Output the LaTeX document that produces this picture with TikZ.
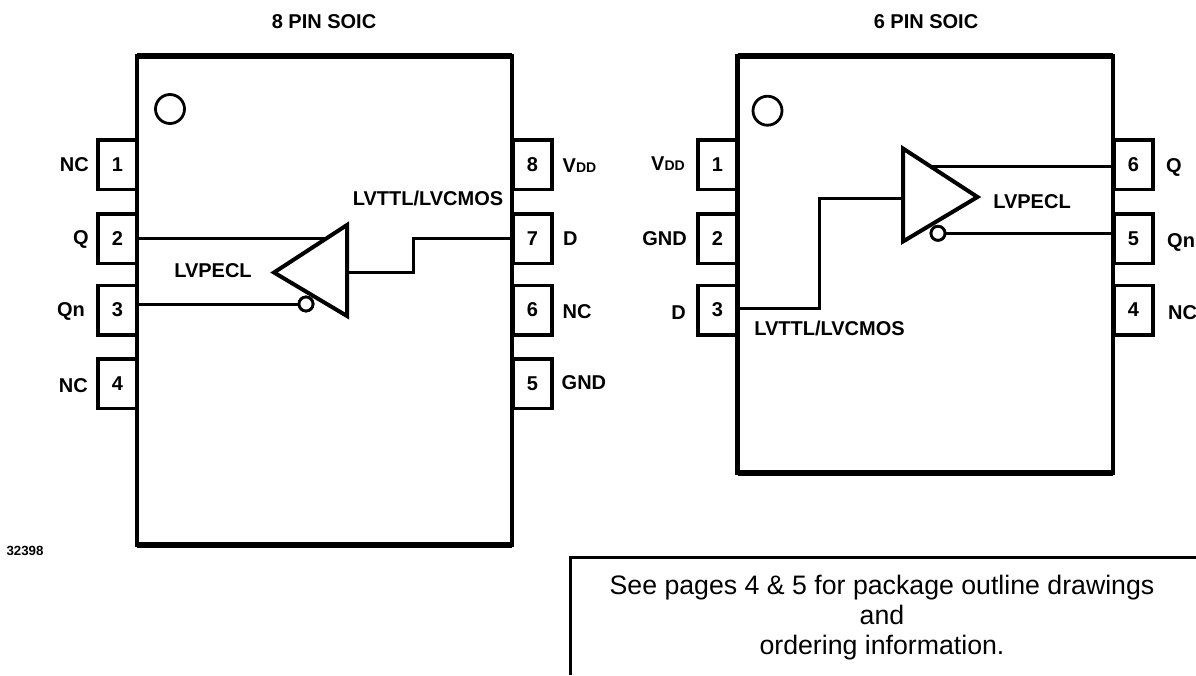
\documentclass[tikz,border=0pt]{standalone}
\usepackage{fontspec}
\setmainfont{Liberation Sans}
\tikzset{
  chip/.style={rectangle,draw=black,line width=4.5pt,inner sep=0pt,outer sep=0pt},
  pinbox/.style={rectangle,draw=black,line width=3.5pt,fill=white,inner sep=0pt,outer sep=0pt,
    minimum width=39pt,minimum height=49.5pt,font=\fontsize{20}{22}\selectfont\bfseries},
  lbl/.style={inner sep=0pt,text height=14pt,text depth=0pt,font=\fontsize{20}{22}\selectfont\bfseries},
  wire/.style={draw=black,line width=3pt},
  buf/.style={draw=black,line width=4pt,miter limit=10},
  bubble/.style={circle,draw=black,line width=2.8pt,fill=white,inner sep=0pt,outer sep=0pt,minimum size=14pt},
  dot1/.style={draw=black,line width=2.8pt}
}
\newcommand{\vdd}{V{\fontsize{14}{14}\selectfont DD}}
\begin{document}
\begin{tikzpicture}[x=1pt,y=-1pt]
\useasboundingbox (0,0) rectangle (1196,675);

% 8 pin package
\node[pinbox] (a1) at (117.5,164.75) {1};
\node[pinbox] (a2) at (117.5,238.75) {2};
\node[pinbox] (a3) at (117.5,310) {3};
\node[pinbox] (a4) at (117.5,383.5) {4};
\node[pinbox] (a8) at (532.5,164.75) {8};
\node[pinbox] (a7) at (532.5,238.75) {7};
\node[pinbox] (a6) at (532.5,310) {6};
\node[pinbox] (a5) at (532.5,383.5) {5};
\node[chip,minimum width=375pt,minimum height=488.5pt] (A) at (324.5,300.25) {};
\draw[chip,line width=6pt] (A.north west) -- (A.north east);
\draw[chip,line width=6pt] (A.south west) -- (A.south east);
\draw[dot1] (170,109) circle [radius=14.5];

\node[lbl] (t8) at (324,21) {8 PIN SOIC};
\node[lbl,anchor=east] (la1) at (89,164) {NC};
\node[lbl,anchor=east] (la2) at (89,237) {Q};
\node[lbl,anchor=east] (la3) at (85,309) {Qn};
\node[lbl,anchor=east] (la4) at (88,385.5) {NC};
\node[lbl,anchor=west] (la8) at (562.5,165) {\vdd};
\node[lbl,anchor=west] (la7) at (563,238) {D};
\node[lbl,anchor=west] (la6) at (562.5,311) {NC};
\node[lbl,anchor=west] (la5) at (561.5,382) {GND};
\node[lbl] (ttlA) at (428,198) {LVTTL/LVCMOS};
\node[lbl] (peclA) at (213,270.5) {LVPECL};

\coordinate (bufAin) at (347,272.5);
\coordinate (bufAtop) at (347,225);
\coordinate (bufAbot) at (347,316);
\coordinate (bufAout) at (274,272.5);
\coordinate (qA) at (326,238.75);
\node[bubble] (nA) at (306,304) {};
\coordinate (qnA) at (137,304);
\draw[wire] (a2.east) -- (qA);
\draw[wire] (qnA) -- (nA.west);
\draw[wire] (bufAin) -| (413,238.75) -- (a7.west);
\draw[buf] (bufAtop) -- (bufAout) -- (bufAbot) -- cycle;
\node[bubble] (nA2) at (nA) {};

% 6 pin package
\node[pinbox] (b1) at (717.5,164.75) {1};
\node[pinbox] (b2) at (717.5,238.75) {2};
\node[pinbox] (b3) at (717.5,310) {3};
\node[pinbox] (b6) at (1133.5,164.75) {6};
\node[pinbox] (b5) at (1133.5,238.75) {5};
\node[pinbox] (b4) at (1133.5,310) {4};
\node[chip,minimum width=375.5pt,minimum height=416.5pt] (B) at (925.25,264.25) {};
\draw[chip,line width=6pt] (B.north west) -- (B.north east);
\draw[chip,line width=6pt] (B.south west) -- (B.south east);
\draw[dot1] (767.5,110.7) circle [radius=14.5];

\node[lbl] (t6) at (926,21) {6 PIN SOIC};
\node[lbl,anchor=east] (lb1) at (685,163) {\vdd};
\node[lbl,anchor=east] (lb2) at (687,238.7) {GND};
\node[lbl,anchor=east] (lb3) at (686,312.7) {D};
\node[lbl,anchor=west] (lb6) at (1166,165) {Q};
\node[lbl,anchor=west] (lb5) at (1167,240) {Qn};
\node[lbl,anchor=west] (lb4) at (1168,312) {NC};
\node[lbl] (ttlB) at (829.5,328) {LVTTL/LVCMOS};
\node[lbl] (peclB) at (1032,201.5) {LVPECL};

\coordinate (bufBin) at (903,198.7);
\coordinate (bufBtop) at (903,148.5);
\coordinate (bufBbot) at (903,241.5);
\coordinate (bufBout) at (977.5,197);
\coordinate (qB) at (930,166.7);
\coordinate (qBr) at (1113,166.7);
\coordinate (qnBr) at (1113,233.3);
\coordinate (dB) at (737.5,308.7);
\node[bubble] (nB) at (938,233.3) {};
\draw[wire] (qB) -- (qBr);
\draw[wire] (nB.east) -- (qnBr);
\draw[wire] (dB) -| (819.5,198.7) -- (bufBin);
\draw[buf] (bufBtop) -- (bufBout) -- (bufBbot) -- cycle;
\node[bubble] (nB2) at (nB) {};

% figure number and note
\node[inner sep=0pt,font=\fontsize{13.3}{15}\selectfont\bfseries] (fig) at (25,551) {32398};
\draw[draw=black,line width=3pt] (570,675) -- (570,557) -- (1196,557);
\node[align=center,inner sep=0pt,font=\fontsize{26.7}{30}\selectfont] (note) at (882,618) {See pages 4 \& 5 for package outline drawings\\and\\ordering information.};

\end{tikzpicture}
\end{document}
